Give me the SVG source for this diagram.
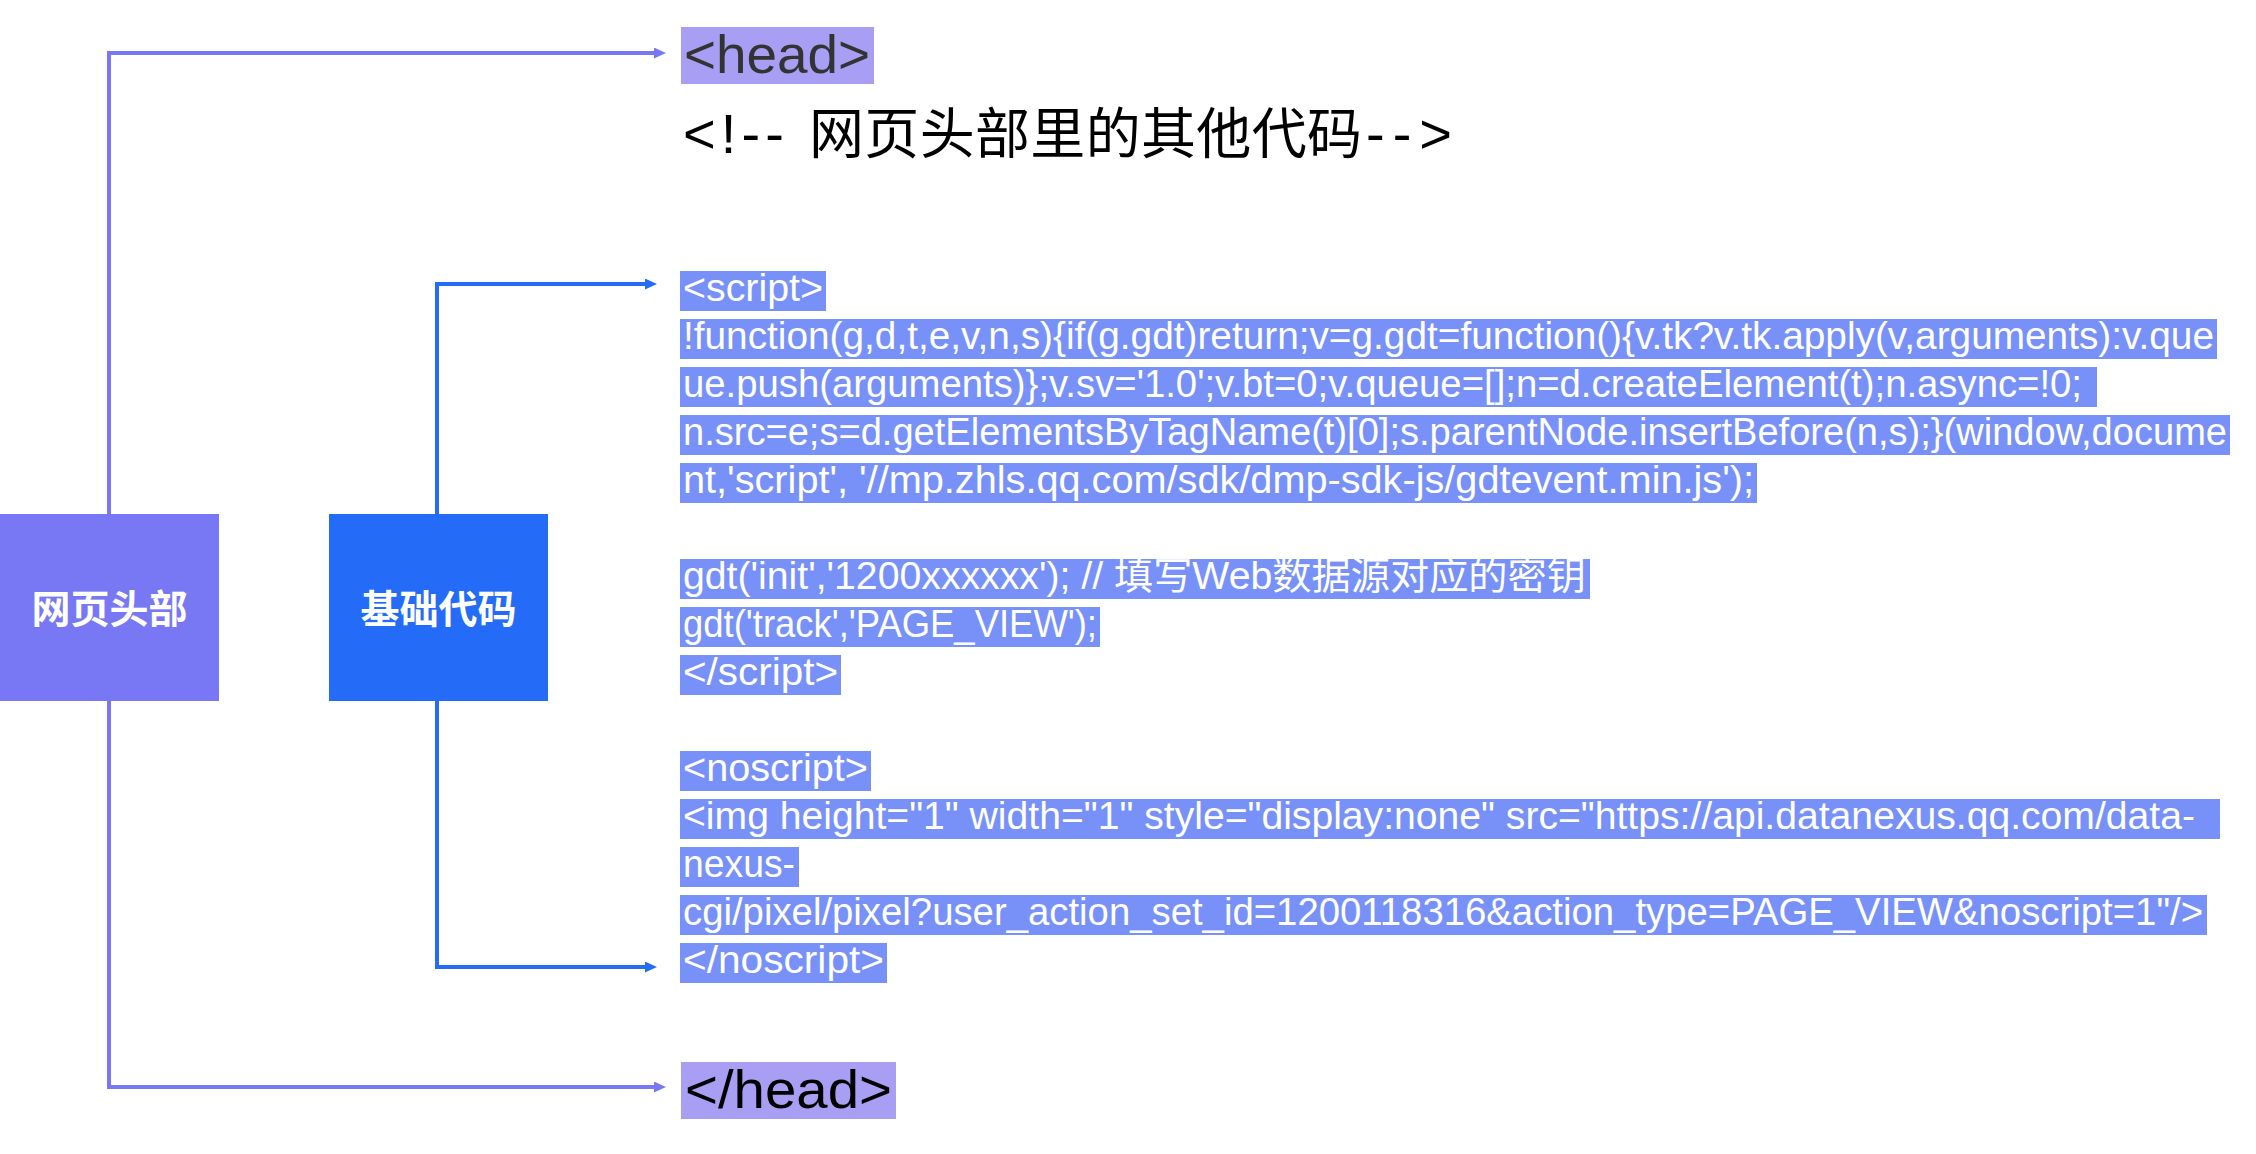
<svg xmlns="http://www.w3.org/2000/svg" width="2256" height="1154" viewBox="0 0 2256 1154">
<defs>
<style>
.code{font-family:"Liberation Sans","Noto Sans CJK SC",sans-serif;font-size:38px;fill:#ffffff}
.hl{fill:#7891f8}
.tag{font-family:"Liberation Sans","Noto Sans CJK SC",sans-serif;font-size:54px}
.lbl{font-family:"Noto Sans CJK SC","Liberation Sans",sans-serif;font-size:39px;font-weight:bold;fill:#ffffff}
.cp{fill:none;stroke:#7878f5;stroke-width:4}
.cb{fill:none;stroke:#246cf8;stroke-width:4}
</style>
<marker id="ap" markerUnits="userSpaceOnUse" markerWidth="13" markerHeight="12" refX="1" refY="5.5" orient="auto"><path d="M0,0 L12,5.5 L0,11 z" fill="#7878f5"/></marker>
<marker id="ab" markerUnits="userSpaceOnUse" markerWidth="13" markerHeight="12" refX="1" refY="5.5" orient="auto"><path d="M0,0 L12,5.5 L0,11 z" fill="#246cf8"/></marker>
</defs>
<rect width="2256" height="1154" fill="#ffffff"/>
<g id="connectors">
<path class="cp" d="M109,514 V53 H655" marker-end="url(#ap)"/>
<path class="cp" d="M109,701 V1087 H655" marker-end="url(#ap)"/>
<path class="cb" d="M437,514 V284 H646" marker-end="url(#ab)"/>
<path class="cb" d="M437,701 V967 H646" marker-end="url(#ab)"/>
</g>
<g id="node-head">
<rect x="0" y="514" width="219" height="187" fill="#7878f5"/>
<text class="lbl" x="109.5" y="623" text-anchor="middle">网页头部</text>
</g>
<g id="node-base">
<rect x="329" y="514" width="219" height="187" fill="#246cf8"/>
<text class="lbl" x="438.5" y="623" text-anchor="middle">基础代码</text>
</g>
<g id="head-open">
<rect x="681" y="27" width="193" height="57" fill="#a89ff5"/>
<text class="tag" x="684" y="73" fill="#333333" textLength="186" lengthAdjust="spacingAndGlyphs">&lt;head&gt;</text>
</g>
<g id="comment">
<text x="683" y="153" font-family="Liberation Sans,Noto Sans CJK SC,sans-serif" fill="#000000"><tspan font-size="56" textLength="101" lengthAdjust="spacing">&lt;!--</tspan><tspan x="809" font-family="Noto Sans CJK SC,sans-serif" font-size="55" textLength="553" lengthAdjust="spacing">网页头部里的其他代码</tspan><tspan x="1366" font-size="56" textLength="86" lengthAdjust="spacing">--&gt;</tspan></text>
</g>
<g id="code">
<rect class="hl" x="680" y="271" width="146" height="40"/>
<rect class="hl" x="680" y="319" width="1537" height="40"/>
<rect class="hl" x="680" y="367" width="1417" height="40"/>
<rect class="hl" x="680" y="415" width="1550" height="40"/>
<rect class="hl" x="680" y="463" width="1077" height="40"/>
<rect class="hl" x="680" y="559" width="910" height="40"/>
<rect class="hl" x="680" y="607" width="420" height="40"/>
<rect class="hl" x="680" y="655" width="161" height="40"/>
<rect class="hl" x="680" y="751" width="191" height="40"/>
<rect class="hl" x="680" y="799" width="1540" height="40"/>
<rect class="hl" x="680" y="847" width="119" height="40"/>
<rect class="hl" x="680" y="895" width="1527" height="40"/>
<rect class="hl" x="680" y="943" width="207" height="40"/>
<text class="code" x="683" y="301" textLength="140" lengthAdjust="spacingAndGlyphs">&lt;script&gt;</text>
<text class="code" x="683" y="349" textLength="1531" lengthAdjust="spacingAndGlyphs">!function(g,d,t,e,v,n,s){if(g.gdt)return;v=g.gdt=function(){v.tk?v.tk.apply(v,arguments):v.que</text>
<text class="code" x="683" y="397" textLength="1399" lengthAdjust="spacingAndGlyphs">ue.push(arguments)};v.sv='1.0';v.bt=0;v.queue=[];n=d.createElement(t);n.async=!0;</text>
<text class="code" x="683" y="445" textLength="1544" lengthAdjust="spacingAndGlyphs">n.src=e;s=d.getElementsByTagName(t)[0];s.parentNode.insertBefore(n,s);}(window,docume</text>
<text class="code" x="683" y="493" textLength="1071" lengthAdjust="spacingAndGlyphs">nt,'script', '//mp.zhls.qq.com/sdk/dmp-sdk-js/gdtevent.min.js');</text>
<text class="code" x="683" y="589" textLength="903" lengthAdjust="spacingAndGlyphs">gdt('init','1200xxxxxx'); // 填写Web数据源对应的密钥</text>
<text class="code" x="683" y="637" textLength="414" lengthAdjust="spacingAndGlyphs">gdt('track','PAGE_VIEW');</text>
<text class="code" x="683" y="685" textLength="155" lengthAdjust="spacingAndGlyphs">&lt;/script&gt;</text>
<text class="code" x="683" y="781" textLength="185" lengthAdjust="spacingAndGlyphs">&lt;noscript&gt;</text>
<text class="code" x="683" y="829" textLength="1512" lengthAdjust="spacingAndGlyphs">&lt;img height="1" width="1" style="display:none" src="https://api.datanexus.qq.com/data-</text>
<text class="code" x="683" y="877" textLength="112" lengthAdjust="spacingAndGlyphs">nexus-</text>
<text class="code" x="683" y="925" textLength="1520" lengthAdjust="spacingAndGlyphs">cgi/pixel/pixel?user_action_set_id=1200118316&amp;action_type=PAGE_VIEW&amp;noscript=1"/&gt;</text>
<text class="code" x="683" y="973" textLength="201" lengthAdjust="spacingAndGlyphs">&lt;/noscript&gt;</text>
</g>
<g id="head-close">
<rect x="681" y="1062" width="215" height="57" fill="#a89ff5"/>
<text class="tag" x="685" y="1108" fill="#000000" textLength="207" lengthAdjust="spacingAndGlyphs">&lt;/head&gt;</text>
</g>
</svg>
